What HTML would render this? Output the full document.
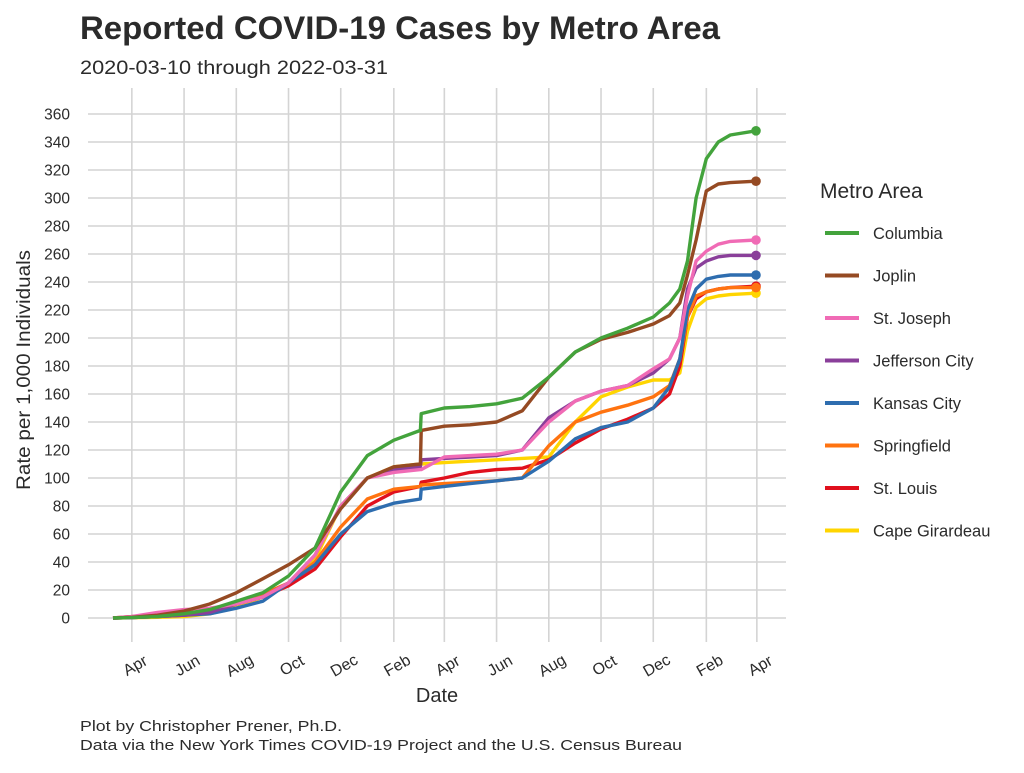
<!DOCTYPE html>
<html><head><meta charset="utf-8"><style>
body{margin:0;background:#fff;font-family:"Liberation Sans",sans-serif}
</style></head><body>
<svg id="chart" width="1024" height="768" xmlns="http://www.w3.org/2000/svg">
<rect width="1024" height="768" fill="#fff"/>
<text x="80" y="39" font-size="32" font-weight="bold" fill="#2b2b2b" textLength="640" lengthAdjust="spacingAndGlyphs">Reported COVID-19 Cases by Metro Area</text>
<text x="80" y="74" font-size="19" fill="#2b2b2b" textLength="308" lengthAdjust="spacingAndGlyphs">2020-03-10 through 2022-03-31</text>
<g id="grid"></g><g id="yticks"></g><g id="xticks"></g><g id="lines"></g><g id="legend"></g>
<text x="437" y="702" font-size="20" text-anchor="middle" fill="#2b2b2b">Date</text>
<text transform="translate(30,370) rotate(-90)" font-size="19" text-anchor="middle" fill="#2b2b2b" textLength="240" lengthAdjust="spacingAndGlyphs">Rate per 1,000 Individuals</text>
<text x="80" y="731" font-size="15" fill="#2b2b2b" textLength="262" lengthAdjust="spacingAndGlyphs">Plot by Christopher Prener, Ph.D.</text>
<text x="80" y="750" font-size="15" fill="#2b2b2b" textLength="602" lengthAdjust="spacingAndGlyphs">Data via the New York Times COVID-19 Project and the U.S. Census Bureau</text>
</svg>
<script>
const dates=["2020-03-10","2020-04-01","2020-05-01","2020-06-01","2020-07-01","2020-08-01","2020-09-01","2020-10-01","2020-11-01","2020-12-01","2021-01-01","2021-02-01","2021-03-04","2021-03-05","2021-04-01","2021-05-01","2021-06-01","2021-07-01","2021-08-01","2021-09-01","2021-10-01","2021-11-01","2021-12-01","2021-12-20","2022-01-01","2022-01-10","2022-01-20","2022-02-01","2022-02-15","2022-03-01","2022-03-31"];
const seriesNames=["Columbia","Joplin","St. Joseph","Jefferson City","Kansas City","Springfield","St. Louis","Cape Girardeau"];
const seriesColors=["#43A33C","#954A23","#F06BB5","#8A3F9A","#2E6DAF","#FF7310","#E0101D","#FFD500"];
const columbia=[0,0.3,1,3,6,12,18,30,50,90,116,127,134,146,150,151,153,157,172,190,200,207,215,225,235,255,300,328,340,345,348];
const joplin=[0,0.5,2,5,10,18,28,38,50,78,100,108,110,134,137,138,140,148,172,190,199,204,210,216,225,245,270,305,310,311,312];
const stJoseph=[0,1,4,6,7,10,15,25,45,80,100,104,106,106,115,116,117,120,140,155,162,166,178,185,200,230,255,262,267,269,270];
const jeffersonCity=[0,0.3,1,2,4,10,15,25,45,80,100,106,108,113,114,115,116,120,143,155,162,166,175,185,200,235,250,255,258,259,259];
const kansasCity=[0,0.3,1,2,3,7,12,25,38,60,76,82,85,92,94,96,98,100,112,128,136,140,150,165,185,220,235,242,244,245,245];
const springfield=[0,0.3,1,2,4,10,17,25,40,65,85,92,94,95,96,97,98,100,123,140,147,152,158,166,185,215,230,233,235,236,236];
const stLouis=[0,1,2,4,6,10,15,23,35,58,80,90,94,97,100,104,106,107,113,125,135,142,150,160,180,215,228,233,235,236,237];
const capeGirardeau=[0,0.2,0.5,1,3,8,15,25,42,80,100,108,110,110,111,112,113,114,115,140,158,165,170,170,175,205,222,228,230,231,232];
const seriesValues=[columbia,joplin,stJoseph,jeffersonCity,kansasCity,springfield,stLouis,capeGirardeau];
const yTicks=[0,20,40,60,80,100,120,140,160,180,200,220,240,260,280,300,320,340,360];
const xTickDates=["2020-04-01","2020-06-01","2020-08-01","2020-10-01","2020-12-01","2021-02-01","2021-04-01","2021-06-01","2021-08-01","2021-10-01","2021-12-01","2022-02-01","2022-04-01"];
const xTickLabels=["Apr","Jun","Aug","Oct","Dec","Feb","Apr","Jun","Aug","Oct","Dec","Feb","Apr"];

const NS="http://www.w3.org/2000/svg";
const t0=Date.parse("2020-03-10"),t1=Date.parse("2022-03-31");
const x=d=>113+(Date.parse(d)-t0)/(t1-t0)*643;
const y=v=>618-v*1.4;
function mk(tag,attrs,parent){const e=document.createElementNS(NS,tag);for(const k in attrs)e.setAttribute(k,attrs[k]);parent.appendChild(e);return e;}
const grid=document.getElementById('grid'),yt=document.getElementById('yticks'),xt=document.getElementById('xticks'),lines=document.getElementById('lines'),leg=document.getElementById('legend');
yTicks.forEach(v=>{
  const l=mk('line',{x1:88,x2:786,y1:y(v),y2:y(v),stroke:'#d4d4d4','stroke-width':1.6},grid);
  
  
  const t=mk('text',{x:70,y:y(v)+5.5,'font-size':15.5,'text-anchor':'end',fill:'#2b2b2b'},yt);
  t.textContent=v;
  
  
});
xTickDates.forEach((d,i)=>{
  const xx=x(d);
  const l=mk('line',{x1:xx,x2:xx,y1:88,y2:642,stroke:'#d4d4d4','stroke-width':1.6},grid);
  
  
  const t=mk('text',{transform:`translate(${xx+6},${670}) rotate(-30)`,'font-size':16,'text-anchor':'middle',fill:'#2b2b2b'},xt);
  t.textContent=xTickLabels[i];
  
  
});
for(let s=seriesNames.length-1;s>=0;s--){
  const vals=seriesValues[s];
  const pts=vals.map((v,i)=>x(dates[i]).toFixed(1)+','+y(v).toFixed(1)).join(' ');
  const p=mk('polyline',{points:pts,fill:'none',stroke:seriesColors[s],'stroke-width':3.4,'stroke-linejoin':'round'},lines);
  
  
  const n=vals.length-1;
  const c=mk('circle',{cx:x(dates[n]),cy:y(vals[n]),r:4.8,fill:seriesColors[s]},lines);
  
  
}
const lt=mk('text',{x:820,y:198,'font-size':21,fill:'#2b2b2b'},leg);
lt.textContent='Metro Area';


seriesNames.forEach((n,i)=>{
  const yy=233+i*42.5;
  const g=mk('g',{},leg);
  
  
  mk('line',{x1:825,x2:859,y1:yy,y2:yy,stroke:seriesColors[i],'stroke-width':4},g);
  const t=mk('text',{x:873,y:yy+6,'font-size':16.5,fill:'#2b2b2b'},g);
  t.textContent=n;
});
</script>
</body></html>
